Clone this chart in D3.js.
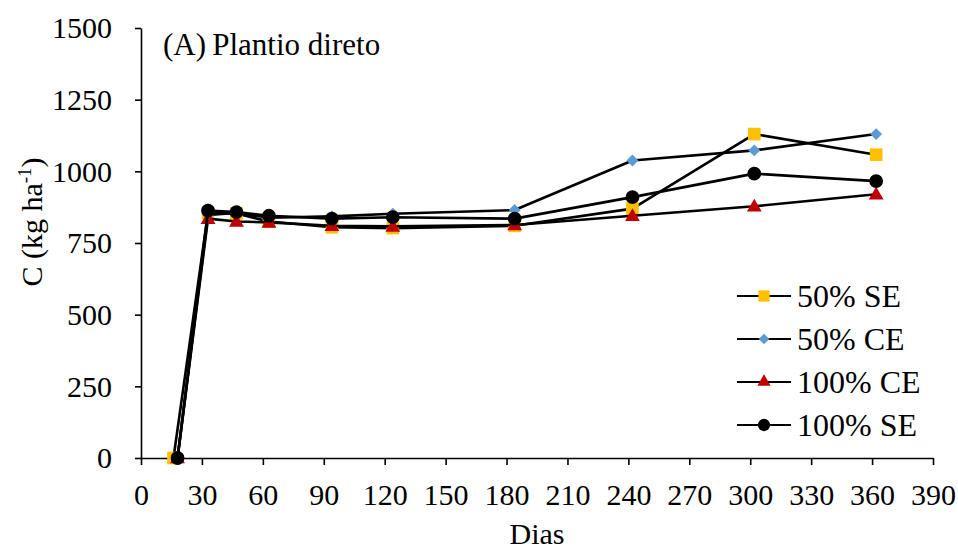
<!DOCTYPE html>
<html>
<head>
<meta charset="utf-8">
<script src="https://cdn.jsdelivr.net/npm/d3@7/dist/d3.min.js"></script>
<style>
  html, body { margin: 0; padding: 0; background: #fff; }
  svg { display: block; }
</style>
</head>
<body>
<svg id="chart" width="958" height="552"></svg>
<script>
// Sampling days (days after start) for each treatment
const daysSquare = [16, 33, 47, 63, 94, 124, 184, 242, 302, 362];
const daysOther  = [18, 33, 47, 63, 94, 124, 184, 242, 302, 362];

// Carbon (kg ha-1) per treatment
const se50  = [0, 855, 853, 825, 805, 802, 810, 870, 1130, 1058];
const ce50  = [0, 848, 855, 838, 843, 852, 865, 1038, 1073, 1130];
const ce100 = [0, 835, 825, 822, 810, 808, 813, 845, 878, 920];
const se100 = [0, 863, 858, 845, 835, 840, 835, 910, 992, 966];

const seriesNames = ["50% SE", "50% CE", "100% CE", "100% SE"];
const xTicks = [0, 30, 60, 90, 120, 150, 180, 210, 240, 270, 300, 330, 360, 390];
const yTicks = [0, 250, 500, 750, 1000, 1250, 1500];

const FONT = '"Liberation Serif", "Times New Roman", serif';

const series = [
  { name: seriesNames[0], days: daysSquare, values: se50,  symbol: d3.symbolSquare,   size: 160, color: "#FFC000" },
  { name: seriesNames[1], days: daysOther,  values: ce50,  symbol: d3.symbolDiamond2, size: 90,  color: "#5B9BD5" },
  { name: seriesNames[2], days: daysOther,  values: ce100, symbol: d3.symbolTriangle, size: 95,  color: "#C00000" },
  { name: seriesNames[3], days: daysOther,  values: se100, symbol: d3.symbolCircle,   size: 150, color: "#000000" }
];

const svg = d3.select("#chart");
const plotLeft = 141, plotRight = 933, plotTop = 28, plotBottom = 458;

const x = d3.scaleLinear().domain([0, 390]).range([plotLeft, plotRight]);
const y = d3.scaleLinear().domain([0, 1500]).range([plotBottom, plotTop]);

// Axes
const xAxis = d3.axisBottom(x).tickValues(xTicks).tickFormat(d3.format("d"))
  .tickSize(7).tickSizeOuter(0).tickPadding(19);
const yAxis = d3.axisLeft(y).tickValues(yTicks).tickFormat(d3.format("d"))
  .tickSize(6).tickSizeOuter(0).tickPadding(23);

const gx = svg.append("g").attr("transform", `translate(0,${plotBottom})`).call(xAxis);
const gy = svg.append("g").attr("transform", `translate(${plotLeft},0)`).call(yAxis);

[gx, gy].forEach(g => {
  g.attr("font-family", FONT).attr("font-size", 30);
  g.selectAll(".domain").attr("stroke", "#000").attr("stroke-width", 1.6);
  g.selectAll(".tick line").attr("stroke", "#000").attr("stroke-width", 1.6);
  g.selectAll(".tick text").attr("fill", "#000");
});
gy.selectAll(".tick text").attr("dy", "0.33em");

// Axis titles
svg.append("text")
  .attr("x", (plotLeft + plotRight) / 2)
  .attr("y", 544)
  .attr("text-anchor", "middle")
  .attr("font-family", FONT)
  .attr("font-size", 30)
  .text("Dias");

const yTitle = svg.append("text")
  .attr("transform", "translate(42,222) rotate(-90)")
  .attr("text-anchor", "middle")
  .attr("font-family", FONT)
  .attr("font-size", 30);
yTitle.append("tspan").text("C (kg ha");
yTitle.append("tspan").attr("dy", "-11").attr("font-size", 19).text("-1");
yTitle.append("tspan").attr("dy", "11").text(")");

// Panel label
svg.append("text")
  .attr("x", 163)
  .attr("y", 55)
  .attr("font-family", FONT)
  .attr("font-size", 31)
  .text("(A)\u2009Plantio direto");

// Series lines and markers
const line = d3.line().x(d => x(d[0])).y(d => y(d[1]));

series.forEach(s => {
  const pts = s.values.map((v, i) => [s.days[i], v]);
  svg.append("path")
    .attr("d", line(pts))
    .attr("fill", "none")
    .attr("stroke", "#000")
    .attr("stroke-width", 2.6)
    .attr("stroke-linejoin", "round");
  svg.append("g").selectAll("path")
    .data(pts)
    .join("path")
    .attr("transform", d => `translate(${x(d[0])},${y(d[1]) + (s.symbol === d3.symbolTriangle ? 1 : 0)})`)
    .attr("d", d3.symbol().type(s.symbol).size(s.size))
    .attr("fill", s.color);
});

// Legend
const legendY = [296, 339, 382, 425];
const lg = svg.append("g");
series.forEach((s, i) => {
  const yy = legendY[i];
  lg.append("line")
    .attr("x1", 737).attr("x2", 791)
    .attr("y1", yy).attr("y2", yy)
    .attr("stroke", "#000").attr("stroke-width", 2.2);
  lg.append("path")
    .attr("transform", `translate(764,${yy})`)
    .attr("d", d3.symbol().type(s.symbol).size(s.size * 0.8))
    .attr("fill", s.color);
  lg.append("text")
    .attr("x", 797)
    .attr("y", yy + 11)
    .attr("font-family", FONT)
    .attr("font-size", 32)
    .text(s.name);
});
</script>
</body>
</html>
